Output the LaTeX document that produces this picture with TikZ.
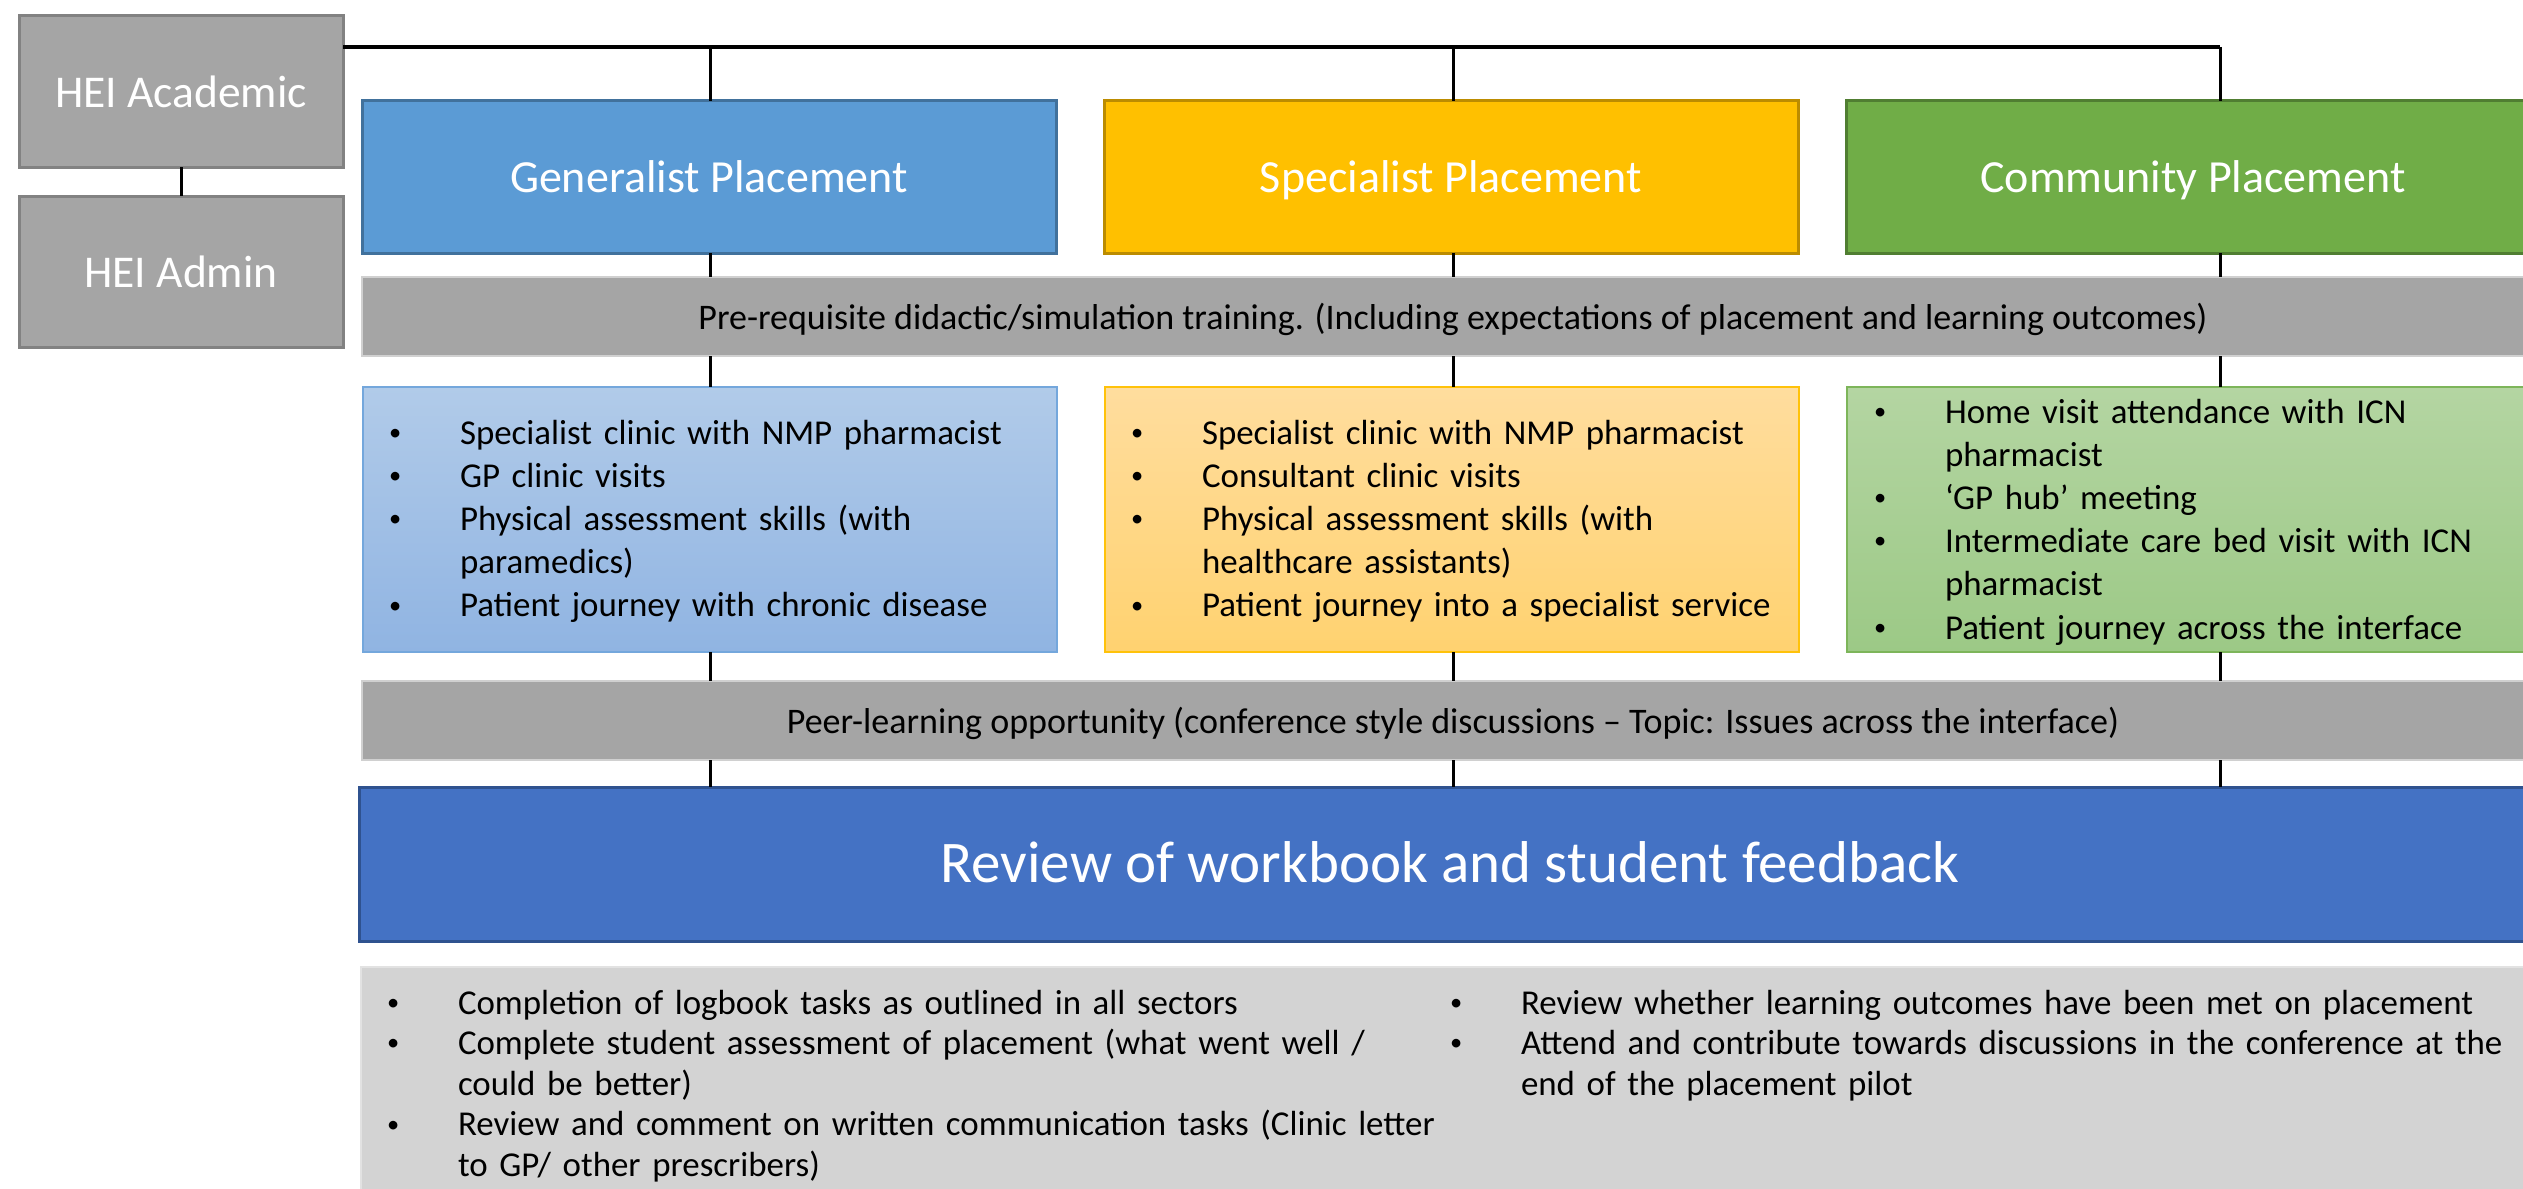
\documentclass[tikz,border=0pt]{standalone}
\usepackage{graphicx}
\usepackage{fontspec}
\setmainfont{Carlito}
\setlength\parindent{0pt}
\newlength\mybw
\setlength\mybw{73pt}
\newcommand\myblt{\makebox[\mybw][l]{\hspace*{2pt}\raisebox{3.8pt}{\scalebox{0.7}{\textbullet}}}}
\newcommand\mycont{\hspace*{\mybw}}
\definecolor{heifill}{HTML}{A5A5A5}
\definecolor{heiline}{HTML}{828282}
\definecolor{genfill}{HTML}{5B9BD5}
\definecolor{genline}{HTML}{41719C}
\definecolor{specfill}{HTML}{FFC000}
\definecolor{specline}{HTML}{BC8C00}
\definecolor{commfill}{HTML}{70AD47}
\definecolor{commline}{HTML}{507E32}
\definecolor{barfill}{HTML}{A5A5A5}
\definecolor{barline}{HTML}{D0D0D0}
\definecolor{revfill}{HTML}{4472C4}
\definecolor{revline}{HTML}{2F528F}
\definecolor{botfill}{HTML}{D3D3D3}
\definecolor{botline}{HTML}{E2E2E2}
\definecolor{bluetop}{HTML}{B1CBE9}
\definecolor{bluebot}{HTML}{90B4E2}
\definecolor{blueline}{HTML}{74A7DC}
\definecolor{oratop}{HTML}{FFDD9E}
\definecolor{orabot}{HTML}{FFD270}
\definecolor{oraline}{HTML}{FFC20A}
\definecolor{grntop}{HTML}{B4D5A2}
\definecolor{grnbot}{HTML}{9CC986}
\definecolor{grnline}{HTML}{7DB55A}
\begin{document}
\begin{tikzpicture}[x=1pt,y=-1pt,
  boxbase/.style={inner sep=0pt, outer sep=0pt, anchor=north west},
  heibox/.style={boxbase, draw=heiline, fill=heifill, line width=3pt,
    minimum width=324pt, minimum height=151pt, text=white,
    font=\fontsize{45.5}{54}\selectfont, text depth=0pt},
  placebox/.style={boxbase, line width=3pt, minimum width=694pt,
    minimum height=152pt, text=white, font=\fontsize{46}{55}\selectfont,
    text depth=0pt},
  barbox/.style={boxbase, draw=barline, fill=barfill, line width=1.5pt,
    minimum width=2182pt, minimum height=79pt,
    font=\fontsize{36}{43}\selectfont, text depth=0pt},
  listbox/.style={boxbase, line width=1.5pt, minimum width=694pt, minimum height=265pt},
  listtext/.style={inner sep=0pt, outer sep=0pt, anchor=north west, align=left,
    text width=1100pt, font=\fontsize{34.9}{43.2}\selectfont},
  bottext/.style={listtext, font=\fontsize{34.9}{40.6}\selectfont},
  conn/.style={line width=3pt, black},
  topconn/.style={line width=4pt, black}
]
\useasboundingbox (0,0) rectangle (2523,1188);
\clip (0,0) rectangle (2523,1188);
\fill[white] (0,0) rectangle (2523,1188);

% HEI boxes
\node[heibox] (acad) at (19,16) {HEI Academic};
\node[heibox] (admin) at (19,196) {HEI Admin};

% placement boxes
\node[placebox, draw=genline, fill=genfill] (gen) at (362,101) {Generalist Placement};
\node[placebox, draw=specline, fill=specfill] (spec) at (1104,101) {Specialist Placement};
\node[placebox, draw=commline, fill=commfill] (comm) at (1846,101) {Community Placement};

% bar 1
\node[barbox] (pre) at (362,277) {Pre-requisite didactic/simulation training. (Including expectations of placement and learning outcomes)};

% list boxes
\node[listbox, draw=blueline, top color=bluetop, bottom color=bluebot] (gbox) at (363,387) {};
\node[listbox, draw=oraline, top color=oratop, bottom color=orabot] (sbox) at (1105,387) {};
\node[listbox, draw=grnline, top color=grntop, bottom color=grnbot] (cbox) at (1847,387) {};

\node[listtext] (gtext) at (387,414) {\rule{0pt}{30pt}\myblt Specialist clinic with NMP pharmacist\\
\myblt GP clinic visits\\
\myblt Physical assessment skills (with\\
\mycont paramedics)\\
\myblt Patient journey with chronic disease};

\node[listtext] (stext) at (1129,414) {\rule{0pt}{30pt}\myblt Specialist clinic with NMP pharmacist\\
\myblt Consultant clinic visits\\
\myblt Physical assessment skills (with\\
\mycont healthcare assistants)\\
\myblt Patient journey into a specialist service};

\node[listtext] (ctext) at (1872,393) {\rule{0pt}{30pt}\myblt Home visit attendance with ICN\\
\mycont pharmacist\\
\myblt ‘GP hub’ meeting\\
\myblt Intermediate care bed visit with ICN\\
\mycont pharmacist\\
\myblt Patient journey across the interface};

% bar 2
\node[barbox] (peer) at (362,681) {Peer-learning opportunity (conference style discussions – Topic: Issues across the interface)};

% review box
\node[boxbase, draw=revline, fill=revfill, line width=3pt, minimum width=2182pt,
  minimum height=154pt, text=white, font=\fontsize{59}{70}\selectfont,
  text height=36pt, text depth=0pt] (rev) at (359,787)
  {Review of workbook and student feedback};

% bottom box
\node[boxbase, draw=botline, fill=botfill, line width=1.5pt, minimum width=2182pt,
  minimum height=300pt] (bot) at (361,967) {};

\node[bottext] (btl) at (385,984) {\rule{0pt}{30pt}\myblt Completion of logbook tasks as outlined in all sectors\\
\myblt Complete student assessment of placement (what went well /\\
\mycont could be better)\\
\myblt Review and comment on written communication tasks (Clinic letter\\
\mycont to GP/ other prescribers)};

\node[bottext] (btr) at (1448,984) {\rule{0pt}{30pt}\myblt Review whether learning outcomes have been met on placement\\
\myblt Attend and contribute towards discussions in the conference at the\\
\mycont end of the placement pilot};

% connectors
\coordinate (c1) at (710,47);
\coordinate (c2) at (1453,47);
\coordinate (c3) at (2220,47);
\draw[conn] (acad.south) -- (admin.north);
\draw[topconn] (acad.east |- c1) -- (c3);
\draw[conn] (c1) -- (c1 |- gen.north);
\draw[conn] (c2) -- (c2 |- spec.north);
\draw[conn] (c3) -- (c3 |- comm.north);
\foreach \c in {c1,c2,c3}{
  \draw[conn] (\c |- gen.south) -- (\c |- pre.north);
  \draw[conn] (\c |- pre.south) -- (\c |- gbox.north);
  \draw[conn] (\c |- gbox.south) -- (\c |- peer.north);
  \draw[conn] (\c |- peer.south) -- (\c |- rev.north);
}
\end{tikzpicture}
\end{document}
